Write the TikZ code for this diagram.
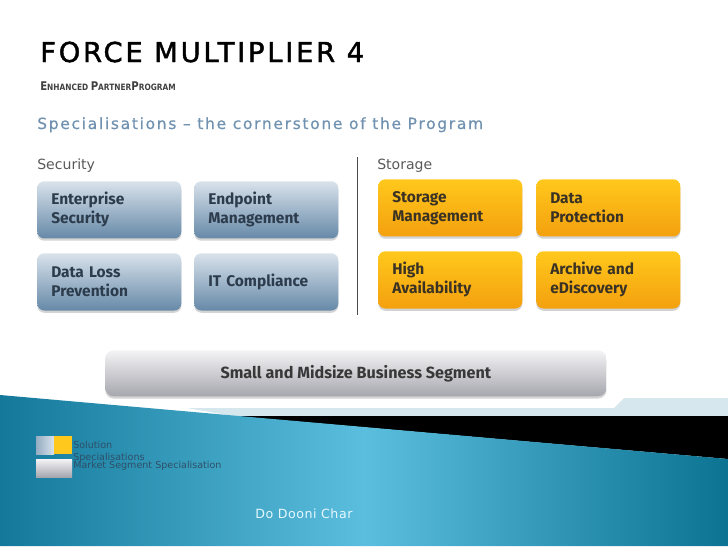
\documentclass[tikz,border=0pt]{standalone}
\usepackage{fontspec}
\setmainfont{DejaVu Sans}
\newfontfamily\boxfont{Fira Sans}
\newfontfamily\titlefont[LetterSpace=10,FakeBold=1.6]{DejaVu Sans}
\newfontfamily\spacedfont[LetterSpace=11,FakeBold=0.6]{DejaVu Sans}
\newfontfamily\plainspaced[LetterSpace=4]{DejaVu Sans}
\newfontfamily\tinyfont[FakeStretch=0.85]{DejaVu Sans Bold}
\usetikzlibrary{shadows}

\definecolor{secTop}{HTML}{D8E2EB}
\definecolor{secBot}{HTML}{6689A8}
\definecolor{secText}{HTML}{2C3C4C}
\definecolor{stoTop}{HTML}{FFC81C}
\definecolor{stoBot}{HTML}{F4A00E}
\definecolor{stoText}{HTML}{3A3224}
\definecolor{barTop}{HTML}{F4F4F6}
\definecolor{barBot}{HTML}{A6A6AE}
\definecolor{headBlue}{HTML}{7092B0}
\definecolor{seaDark}{HTML}{13789A}
\definecolor{seaLight}{HTML}{5BBEDE}
\definecolor{seaRight}{HTML}{0C7393}
\definecolor{stripBlue}{HTML}{D6E7EE}
\definecolor{legText}{HTML}{2E5068}

\tikzset{
  tile/.style={rounded corners=5pt, anchor=north west, minimum width=3.6cm,
    minimum height=1.43cm, text width=2.9cm, inner xsep=0.35cm, align=left,
    font=\boxfont\bfseries\fontsize{11}{13.5}\selectfont,
    drop shadow={shadow xshift=0pt, shadow yshift=-1.6pt, opacity=0.35}},
  secbox/.style={tile, top color=secTop, bottom color=secBot, text=secText},
  stobox/.style={tile, top color=stoTop, bottom color=stoBot, text=stoText},
  legtext/.style={anchor=base west, inner sep=0pt, text=legText,
    font=\fontsize{6.8}{6.8}\selectfont}
}

\begin{document}
\begin{tikzpicture}[x=0.025cm, y=-0.025cm]
\useasboundingbox (0,0) rectangle (728,546);

% bottom band
\fill[stripBlue] (187,408) -- (614,408) -- (624,398) -- (728,398) -- (728,416) -- (233,416) -- cycle;
\fill[black] (233,416) -- (728,416) -- (728,459) -- cycle;
\shade[left color=seaDark, right color=seaRight, middle color=seaLight]
  (0,395) -- (728,459) -- (728,546) -- (0,546) -- cycle;

% headings
\node[anchor=base west, inner sep=0pt, font=\titlefont\fontsize{19.5}{20}\selectfont] (title) at (40,62) {FORCE MULTIPLIER 4};
\node[anchor=base west, inner sep=0pt, text=black!75, font=\tinyfont] (subtitle) at (40,90)
  {{\fontsize{8.5}{9}\selectfont E}{\fontsize{6.2}{9}\selectfont NHANCED }{\fontsize{8.5}{9}\selectfont P}{\fontsize{6.2}{9}\selectfont ARTNER}{\fontsize{8.5}{9}\selectfont P}{\fontsize{6.2}{9}\selectfont ROGRAM}};
\node[anchor=base west, inner sep=0pt, text=headBlue, font=\spacedfont\fontsize{11}{12}\selectfont] (spec) at (37,129)
  {Specialisations – the cornerstone of the Program};

\node[anchor=base west, inner sep=0pt, text=black!65, font=\fontsize{10}{12}\selectfont] (security) at (37,169) {Security};
\node[anchor=base west, inner sep=0pt, text=black!65, font=\fontsize{10}{12}\selectfont] (storage) at (377,169) {Storage};
\coordinate (divtop) at (357,157);
\coordinate (divbot) at (357,315);
\draw[black!70, line width=0.6pt] (divtop) -- (divbot);

% security tiles
\node[secbox] (ent) at (37,181) {Enterprise\\Security};
\node[secbox] (endp) at (194,181) {Endpoint\\Management};
\node[secbox] (dlp) at (37,253) {Data Loss\\Prevention};
\node[secbox] (itc) at (194,253) {IT Compliance};

% storage tiles
\node[stobox] (stm) at (378,179) {Storage\\Management};
\node[stobox] (dpr) at (536,179) {Data\\Protection};
\node[stobox] (hav) at (378,251) {High\\Availability};
\node[stobox] (arc) at (536,251) {Archive and\\eDiscovery};

% segment bar
\node[rounded corners=6pt, anchor=north west, minimum width=12.525cm, minimum height=1.15cm,
  top color=barTop, bottom color=barBot, text=black!78,
  font=\boxfont\bfseries\fontsize{11.5}{13}\selectfont,
  drop shadow={shadow xshift=0pt, shadow yshift=-1.6pt, opacity=0.35}] (smb) at (105,350)
  {Small and Midsize Business Segment};

% legend
\shade[left color=secBot!70, right color=secTop] (36,436) rectangle (54,454);
\fill[stoTop] (54,436) rectangle (72,454);
\shade[top color=barTop, bottom color=barBot] (36,459) rectangle (72,477);
\node[legtext] (legsol) at (73,448) {Solution};
\node[legtext] (legspec) at (73,460.5) {Specialisations};
\node[legtext] (legmkt) at (73,468.5) {Market Segment Specialisation};

\node[anchor=base west, inner sep=0pt, text=white!90!cyan, font=\plainspaced\fontsize{9}{10}\selectfont] (author) at (255,518) {Do Dooni Char};
\end{tikzpicture}
\end{document}
